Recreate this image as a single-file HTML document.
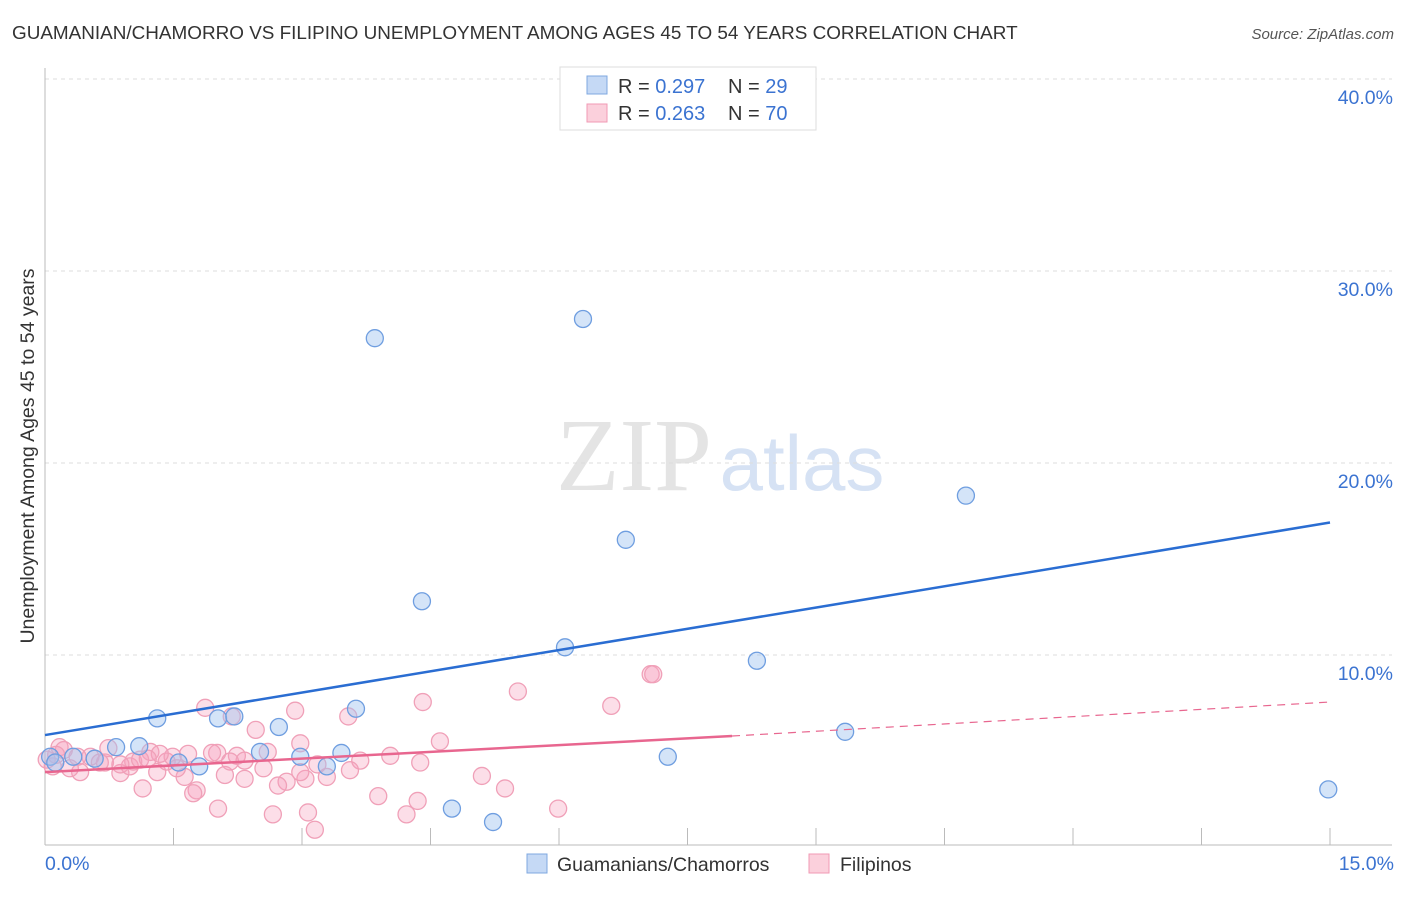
<!DOCTYPE html>
<html><head><meta charset="utf-8"><style>
body{margin:0;background:#fff;font-family:"Liberation Sans",sans-serif}
</style></head><body>
<svg width="1406" height="892" xmlns="http://www.w3.org/2000/svg" font-family="Liberation Sans, sans-serif">
<text x="12" y="39" font-size="18.9" fill="#333">GUAMANIAN/CHAMORRO VS FILIPINO UNEMPLOYMENT AMONG AGES 45 TO 54 YEARS CORRELATION CHART</text>
<text x="1394" y="39" font-size="15" fill="#555" font-style="italic" text-anchor="end">Source: ZipAtlas.com</text>
<text x="634" y="490" font-size="104" fill="#e4e4e4" font-family="Liberation Serif, serif" text-anchor="middle">ZIP</text>
<text x="802" y="490" font-size="78" fill="#d6e2f4" text-anchor="middle">atlas</text>
<g id="grid"></g><g id="axes"></g><g id="pts"></g><g id="lines"></g>
<text transform="translate(34,456) rotate(-90)" font-size="19.5" fill="#333" text-anchor="middle">Unemployment Among Ages 45 to 54 years</text>
<text x="45" y="870" font-size="19.5" fill="#3b73d1">0.0%</text>
<text x="1394" y="870" font-size="19.5" fill="#3b73d1" text-anchor="end">15.0%</text>
<g>
<rect x="560" y="67" width="256" height="63" fill="#fff" stroke="#ddd"/>
<rect x="587" y="76" width="20" height="18" fill="#c5d9f5" stroke="#7fa8e0"/>
<rect x="587" y="104" width="20" height="18" fill="#fbd0dc" stroke="#f09ab4"/>
<text x="618" y="93" font-size="20" fill="#333">R = <tspan fill="#3b73d1">0.297</tspan></text>
<text x="728" y="93" font-size="20" fill="#333">N = <tspan fill="#3b73d1">29</tspan></text>
<text x="618" y="120" font-size="20" fill="#333">R = <tspan fill="#3b73d1">0.263</tspan></text>
<text x="728" y="120" font-size="20" fill="#333">N = <tspan fill="#3b73d1">70</tspan></text>
</g>
<g>
<rect x="527" y="854" width="20" height="19" fill="#c5d9f5" stroke="#7fa8e0"/>
<text x="557" y="871" font-size="19.5" fill="#333">Guamanians/Chamorros</text>
<rect x="809" y="854" width="20" height="19" fill="#fbd0dc" stroke="#f09ab4"/>
<text x="840" y="871" font-size="19.5" fill="#333">Filipinos</text>
</g>
</svg>
<script>
const yTicks=[10,20,30,40];
const xTickCount=10;
const blueX=[3.85,6.28,6.78,10.75,4.4,6.07,8.31,9.34,14.98,7.27,4.75,5.23,1.31,2.02,2.21,2.73,3.63,0.83,1.1,2.51,2.98,3.46,3.29,1.56,1.8,0.58,0.33,0.06,0.12];
const blueY=[26.5,27.5,16.0,18.3,12.8,10.4,9.7,6.0,3.0,4.7,2.0,1.3,6.7,6.7,6.8,6.25,7.2,5.2,5.25,4.95,4.7,4.9,4.2,4.4,4.2,4.6,4.7,4.7,4.4];
const pinkX=[5.52,4.41,1.87,2.92,3.54,2.18,2.46,2.98,4.61,1.23,0.74,0.17,1.67,2.01,2.24,2.6,4.03,3.68,4.38,3.18,2.55,2.1,2.33,1.63,1.31,0.88,0.41,0.99,1.42,3.04,2.82,2.72,3.29,1.14,1.77,1.73,3.89,4.35,4.22,5.1,5.37,2.02,2.66,3.07,3.15,5.99,0.02,0.09,0.53,0.7,1.03,1.11,1.49,1.54,0.88,0.29,7.07,7.1,6.61,0.22,0.38,0.64,1.95,2.33,3.56,1.34,2.16,0.13,2.98,1.2];
const pinkY=[8.1,7.55,7.25,7.1,6.8,6.8,6.1,5.4,5.5,4.95,5.15,5.2,4.85,4.9,4.75,4.95,4.75,4.5,4.4,4.3,4.1,3.75,3.55,3.65,3.9,3.85,3.9,4.2,4.45,3.55,3.4,3.2,3.65,3.05,2.95,2.8,2.65,2.4,1.7,3.7,3.05,2.0,1.7,1.8,0.9,2.0,4.55,4.2,4.7,4.4,4.45,4.55,4.7,4.1,4.3,4.1,9.0,9.0,7.35,5.05,4.7,4.4,4.9,4.5,4.0,4.85,4.45,4.8,3.9,4.6];
const blueLine=[0,5.83,15,16.9];
const pinkLine=[0,3.9,8.02,5.78,15,7.55];
const X=v=>45+v/15*1285, Y=v=>847-v*19.2;
const NS='http://www.w3.org/2000/svg';
function mk(p,t,a){const e=document.createElementNS(NS,t);for(const k in a)e.setAttribute(k,a[k]);document.getElementById(p).appendChild(e);return e;}
yTicks.forEach(t=>{
 const l=mk('grid','line',{x1:45,x2:1392,y1:Y(t),y2:Y(t),stroke:'#ddd','stroke-dasharray':'4,4'});
 
 
 const tx=mk('grid','text',{x:1393,y:Y(t)+25,'font-size':19.5,fill:'#3b73d1','text-anchor':'end'});tx.textContent=t.toFixed(1)+'%';
 
 
});
let a=mk('axes','line',{x1:45,x2:45,y1:68,y2:845,stroke:'#bbb'});


a=mk('axes','line',{x1:45,x2:1392,y1:845,y2:845,stroke:'#bbb'});


for(let i=1;i<=xTickCount;i++){const v=i*15/xTickCount;const t=mk('axes','line',{x1:X(v),x2:X(v),y1:828,y2:845,stroke:'#bbb'});
 
 }
pinkX.forEach((x,i)=>{const c=mk('pts','circle',{cx:X(x),cy:Y(pinkY[i]),r:8.5,fill:'rgba(246,160,188,0.35)',stroke:'#f0a0b8','stroke-width':1.3});
 
 });
blueX.forEach((x,i)=>{const c=mk('pts','circle',{cx:X(x),cy:Y(blueY[i]),r:8.5,fill:'rgba(160,195,240,0.45)',stroke:'#6f9ee0','stroke-width':1.3});
 
 });
let L=mk('lines','line',{x1:X(blueLine[0]),y1:Y(blueLine[1]),x2:X(blueLine[2]),y2:Y(blueLine[3]),stroke:'#2a6dd2','stroke-width':2.5});


L=mk('lines','line',{x1:X(pinkLine[0]),y1:Y(pinkLine[1]),x2:X(pinkLine[2]),y2:Y(pinkLine[3]),stroke:'#e8668f','stroke-width':2.5});


L=mk('lines','line',{x1:X(pinkLine[2]),y1:Y(pinkLine[3]),x2:X(pinkLine[4]),y2:Y(pinkLine[5]),stroke:'#e8668f','stroke-width':1.2,'stroke-dasharray':'8,6'});


</script>
</body></html>
